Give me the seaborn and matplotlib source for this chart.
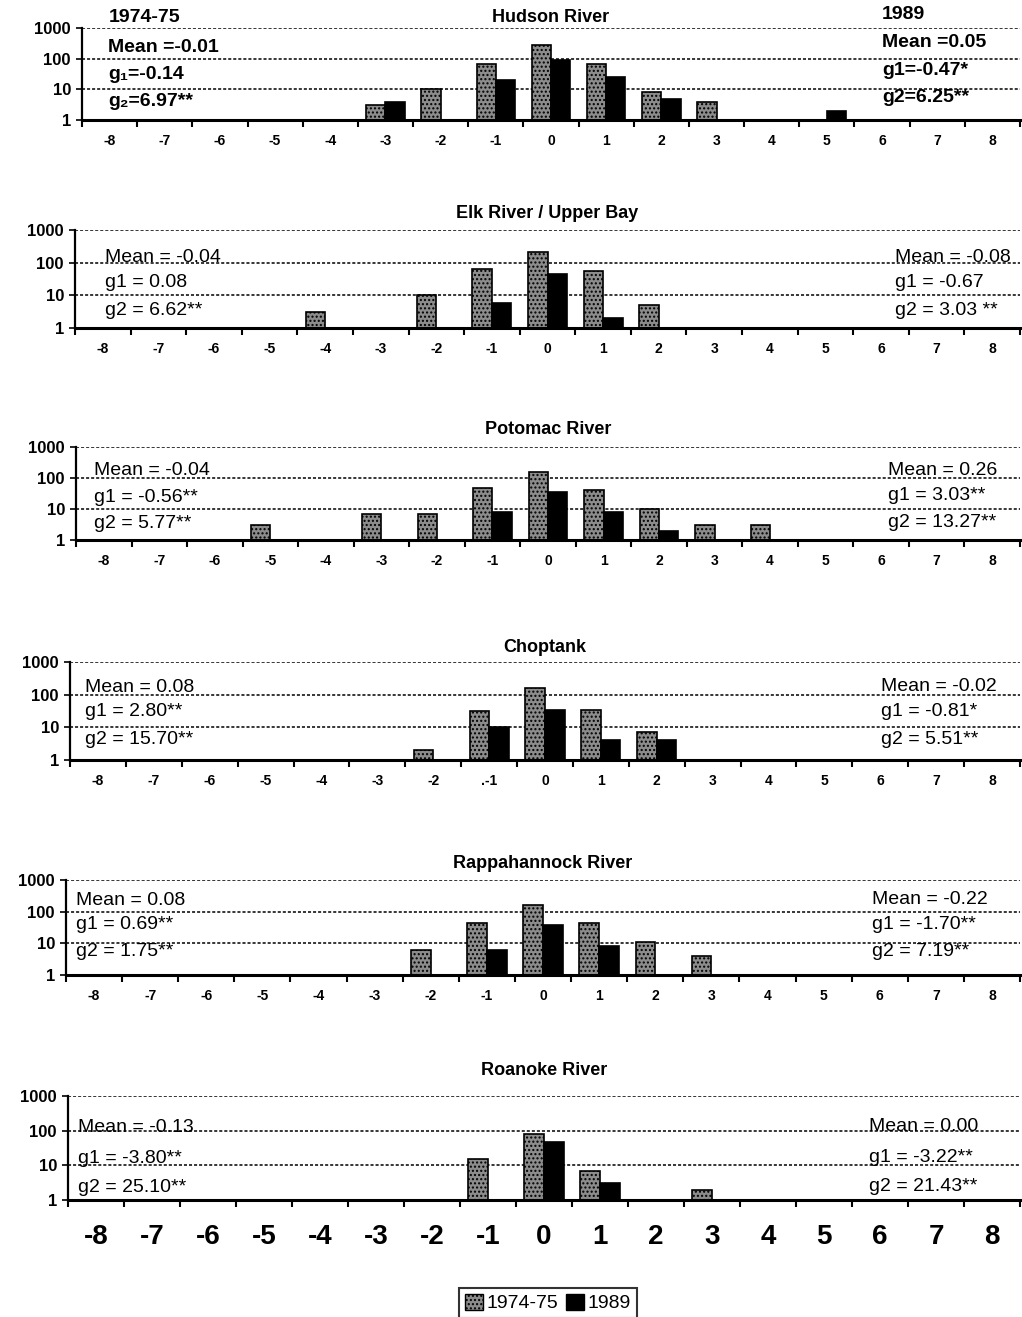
import numpy as np
import pandas as pd
import seaborn as sns
import matplotlib
matplotlib.use("Agg")
import matplotlib.pyplot as plt
from matplotlib.patches import Patch
from matplotlib.ticker import NullLocator

sns.set_theme(style="white")
plt.rcParams["font.family"] = ["Liberation Sans", "DejaVu Sans"]
plt.rcParams["hatch.linewidth"] = 1.0

# ---- data -------------------------------------------------------------
classes = list(range(-8, 9))
periods = ["1974-75", "1989"]

hudson_1974 = [0, 0, 0, 0, 0, 3, 10, 65, 280, 65, 8, 4, 0, 0, 0, 0, 0]
hudson_1989 = [0, 0, 0, 0, 0, 4, 0, 20, 90, 25, 5, 0, 0, 2, 0, 0, 0]
elk_1974 = [0, 0, 0, 0, 3, 0, 10, 63, 210, 56, 5, 0, 0, 0, 0, 0, 0]
elk_1989 = [0, 0, 0, 0, 0, 0, 0, 6, 45, 2, 0, 0, 0, 0, 0, 0, 0]
potomac_1974 = [0, 0, 0, 3, 0, 7, 7, 47, 160, 40, 10, 3, 3, 0, 0, 0, 0]
potomac_1989 = [0, 0, 0, 0, 0, 0, 0, 8, 35, 8, 2, 0, 0, 0, 0, 0, 0]
choptank_1974 = [0, 0, 0, 0, 0, 0, 2, 32, 155, 34, 7, 0, 0, 0, 0, 0, 0]
choptank_1989 = [0, 0, 0, 0, 0, 0, 0, 10, 35, 4, 4, 0, 0, 0, 0, 0, 0]
rappahannock_1974 = [0, 0, 0, 0, 0, 0, 6, 45, 160, 43, 11, 4, 0, 0, 0, 0, 0]
rappahannock_1989 = [0, 0, 0, 0, 0, 0, 0, 6, 38, 8, 0, 0, 0, 0, 0, 0, 0]
roanoke_1974 = [0, 0, 0, 0, 0, 0, 0, 15, 80, 7, 0, 2, 0, 0, 0, 0, 0]
roanoke_1989 = [0, 0, 0, 0, 0, 0, 0, 0, 46, 3, 0, 0, 0, 0, 0, 0, 0]

rivers = ["Hudson River", "Elk River / Upper Bay", "Potomac River",
          "Choptank", "Rappahannock River", "Roanoke River"]
counts_1974 = [hudson_1974, elk_1974, potomac_1974, choptank_1974,
               rappahannock_1974, roanoke_1974]
counts_1989 = [hudson_1989, elk_1989, potomac_1989, choptank_1989,
               rappahannock_1989, roanoke_1989]

stats_left = [
    ["1974-75", "Mean =-0.01", "g\u2081=-0.14", "g\u2082=6.97**"],
    ["Mean = -0.04", "g1 = 0.08", "g2 = 6.62**"],
    ["Mean = -0.04", "g1 = -0.56**", "g2 = 5.77**"],
    ["Mean = 0.08", "g1 = 2.80**", "g2 = 15.70**"],
    ["Mean = 0.08", "g1 = 0.69**", "g2 = 1.75**"],
    ["Mean = -0.13", "g1 = -3.80**", "g2 = 25.10**"],
]
stats_right = [
    ["1989", "Mean =0.05", "g1=-0.47*", "g2=6.25**"],
    ["Mean = -0.08", "g1 = -0.67", "g2 = 3.03 **"],
    ["Mean = 0.26", "g1 = 3.03**", "g2 = 13.27**"],
    ["Mean = -0.02", "g1 = -0.81*", "g2 = 5.51**"],
    ["Mean = -0.22", "g1 = -1.70**", "g2 = 7.19**"],
    ["Mean = 0.00", "g1 = -3.22**", "g2 = 21.43**"],
]
tick_labels = [[str(c) for c in classes] for _ in rivers]
tick_labels[3][7] = ".-1"

# ---- layout (pixels) --------------------------------------------------
W, H = 1022, 1317
RIGHT = 1020
# left edge, top (1000 line), bottom (1 line)
frames = [(82, 28, 120), (75, 230, 328), (76, 447, 540),
          (70, 662, 760), (66, 880, 975), (68, 1096, 1200)]
title_pad = [4, 9, 9, 7, 9, 15]
# axes-fraction y of the stat lines
stat_rows = [[1.11, 0.79, 0.49, 0.20],
             [0.72, 0.46, 0.18],
             [0.75, 0.46, 0.18],
             [0.74, 0.49, 0.21],
             [0.78, 0.53, 0.25],
             [0.70, 0.40, 0.12]]
left_x = [0.028, 0.032, 0.019, 0.016, 0.011, 0.011]
right_x = [0.853, 0.868, 0.860, 0.854, 0.845, 0.841]
right_rows = [[1.15, 0.84, 0.54, 0.25],
              [0.72, 0.46, 0.18],
              [0.75, 0.48, 0.19],
              [0.75, 0.49, 0.21],
              [0.79, 0.53, 0.25],
              [0.71, 0.41, 0.13]]

gray = "#8c8c8c"
palette = {"1974-75": gray, "1989": "black"}

fig = plt.figure(figsize=(W / 100, H / 100), dpi=100)

for i, river in enumerate(rivers):
    left, top, bot = frames[i]
    ax = fig.add_axes([left / W, 1 - bot / H, (RIGHT - left) / W, (bot - top) / H])

    rows = []
    for period, counts in zip(periods, (counts_1974[i], counts_1989[i])):
        for c, n in zip(classes, counts):
            if n > 0:
                rows.append({"size_class": c, "count": n, "period": period})
    df = pd.DataFrame(rows)

    for v in (10, 100, 1000):
        ax.axhline(v, color="black", lw=1.1, ls=(0, (2, 1.3)), zorder=0.5)

    sns.barplot(data=df, x="size_class", y="count", hue="period",
                order=classes, hue_order=periods, palette=palette,
                width=0.7, errorbar=None, edgecolor="black", linewidth=1.2,
                legend=False, ax=ax, zorder=2)
    for bar in ax.containers[0]:
        bar.set_hatch("....")

    ax.set_yscale("log", nonpositive="clip")
    ax.set_ylim(1, 1000)
    ax.set_xlim(-0.5, 16.5)
    ax.set_xlabel("")
    ax.set_ylabel("")
    ax.set_facecolor("white")

    for s in ("top", "right"):
        ax.spines[s].set_visible(False)
    ax.spines["left"].set_color("black")
    ax.spines["left"].set_linewidth(1.6)
    ax.spines["bottom"].set_color("black")
    ax.spines["bottom"].set_linewidth(2.2)
    ax.spines["bottom"].set_zorder(4)

    big = i == len(rivers) - 1
    ax.set_xticks(range(len(classes)))
    ax.set_xticklabels(tick_labels[i], fontweight="bold",
                       fontsize=20 if big else 10)
    ax.set_xticks(np.arange(-0.5, len(classes)), minor=True)
    ax.tick_params(axis="x", which="major", length=0,
                   pad=17 if big else 10, colors="black")
    ax.tick_params(axis="x", which="minor", length=5, width=1.5,
                   direction="out", color="black", bottom=True)

    ax.set_yticks([1, 10, 100, 1000])
    ax.set_yticklabels(["1", "10", "100", "1000"], fontweight="bold", fontsize=12)
    ax.yaxis.set_minor_locator(NullLocator())
    ax.tick_params(axis="y", which="major", length=4, width=1.2,
                   direction="out", color="black", left=True, pad=4,
                   labelcolor="black")

    ax.set_title(river, fontweight="bold", fontsize=13, pad=title_pad[i],
                 color="black")

    weight = "bold" if i == 0 else "normal"
    for txt, y in zip(stats_left[i], stat_rows[i]):
        ax.text(left_x[i], y, txt, transform=ax.transAxes, ha="left",
                va="center", fontsize=14, fontweight=weight, color="black",
                clip_on=False, zorder=3)
    for txt, y in zip(stats_right[i], right_rows[i]):
        ax.text(right_x[i], y, txt, transform=ax.transAxes, ha="left",
                va="center", fontsize=14, fontweight=weight, color="black",
                clip_on=False, zorder=3)

handles = [Patch(facecolor=gray, edgecolor="black", hatch="....", label="1974-75"),
           Patch(facecolor="black", edgecolor="black", label="1989")]
leg = fig.legend(handles=handles, loc="center",
                 bbox_to_anchor=(548 / W, 1 - 1303 / H), ncol=2,
                 frameon=True, fancybox=False, edgecolor="black",
                 fontsize=14, handlelength=0.9, handleheight=0.9,
                 handletextpad=0.2, columnspacing=0.4, borderpad=0.3)
leg.get_frame().set_linewidth(1.5)
for t in leg.get_texts():
    t.set_color("black")

fig.savefig("out.png", dpi=100, facecolor="white")
